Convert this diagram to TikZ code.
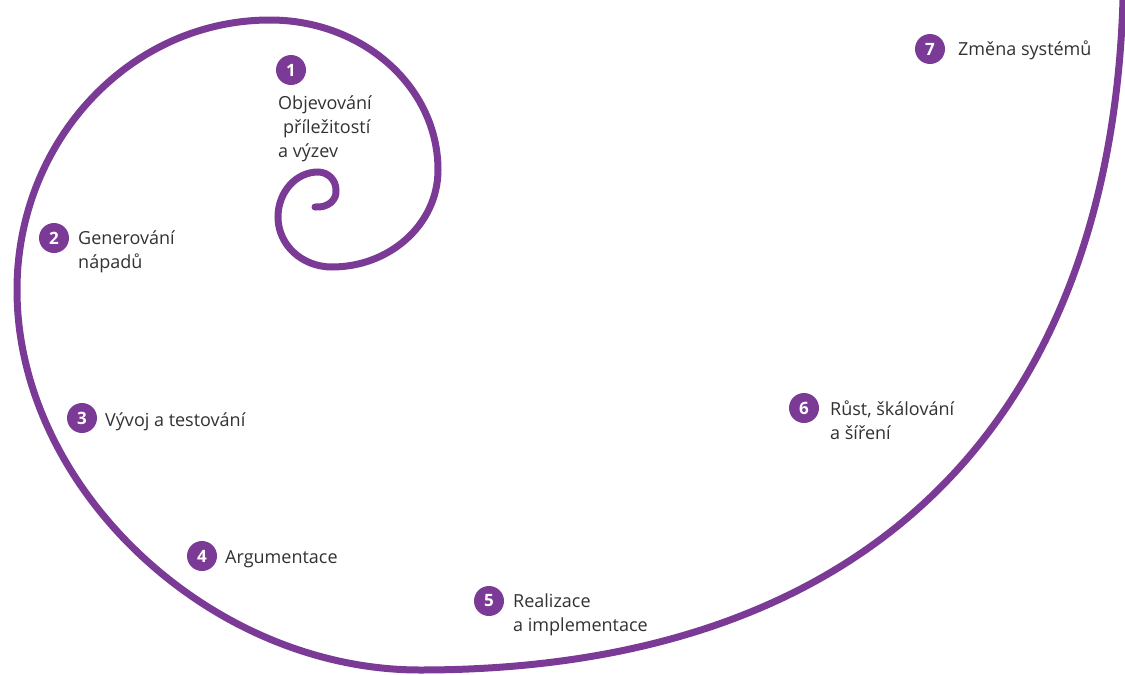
\documentclass[tikz,border=0pt]{standalone}
\usepackage{fontspec}
\setmainfont{Open Sans}
\definecolor{spiral}{RGB}{123,58,150}
\definecolor{txt}{RGB}{50,50,50}
\begin{document}
\begin{tikzpicture}[x=1pt,y=-1pt,
  num/.style={circle,fill=spiral,text=white,minimum size=30pt,inner sep=0pt,font=\fontsize{17}{17}\selectfont\bfseries},
  lbl/.style={anchor=base west,inner sep=0pt,text=txt,align=left,font=\fontsize{18}{24}\selectfont},
  spiralline/.style={draw=spiral,line width=7pt,line cap=round}]
\useasboundingbox[fill=white] (0,0) rectangle (1125,675);

% spiral
\draw[spiralline] (315,207) .. controls (328,208) and (337,200) .. (336,190)
  .. controls (336,180) and (328,172) .. (318,172)
  .. controls (296,172) and (278,192) .. (278,217)
  .. controls (278,245) and (302,267) .. (332,267)
  .. controls (390,267) and (438,224) .. (438,170)
  .. controls (438,87) and (363,20) .. (270,20)
  .. controls (130,20) and (17,141) .. (17,290)
  .. controls (17,488) and (210,670) .. (420,670)
  .. controls (870,670) and (1110,420) .. (1123,0);

% step markers
\node[num] (n1) at (291,70) {1};
\node[num] (n2) at (54,238) {2};
\node[num] (n3) at (82,418) {3};
\node[num] (n4) at (202,556) {4};
\node[num] (n5) at (489,601) {5};
\node[num] (n6) at (804,408) {6};
\node[num] (n7) at (930,49) {7};

% labels (base anchor = baseline of the last line)
\node[lbl] (t1) at (278,157) {Objevování\\\hspace{5pt}příležitostí\\a výzev};
\node[lbl] (t2) at (78,268) {Generování\\nápadů};
\node[lbl] (t3) at (105,426) {Vývoj a testování};
\node[lbl] (t4) at (225,563) {Argumentace};
\node[lbl] (t5) at (513,631) {Realizace\\a implementace};
\node[lbl] (t6) at (830,439) {Růst, škálování\\a šíření};
\node[lbl] (t7) at (958,55) {Změna systémů};
\end{tikzpicture}
\end{document}
